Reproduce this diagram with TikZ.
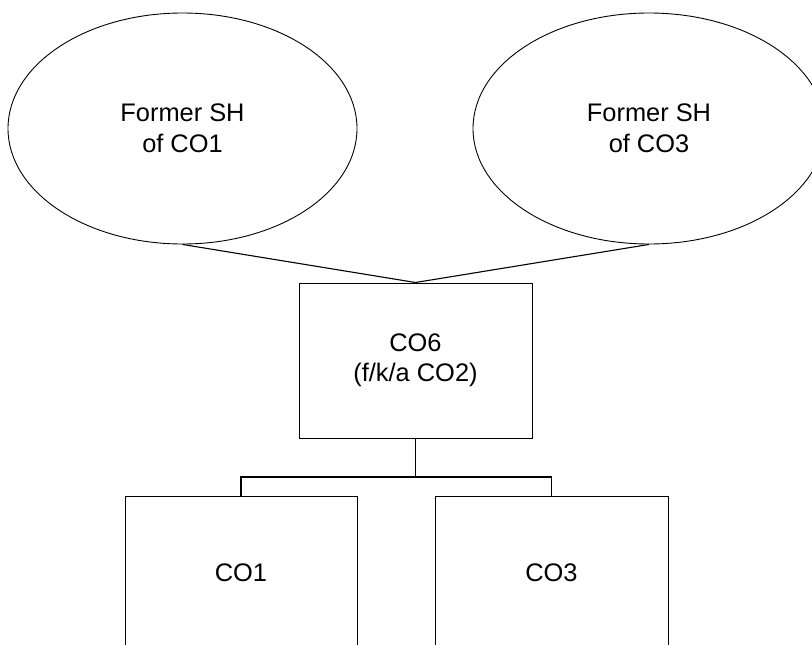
\documentclass[tikz,border=0pt]{standalone}
\usepackage{fontspec}
\setmainfont{Liberation Sans}
\usetikzlibrary{shapes.geometric}
\tikzset{
  x=1pt, y=-1pt,
  lbl/.style={font=\fontsize{25.4}{30.5}\selectfont, align=center, inner sep=0pt},
  oval/.style={lbl, draw, ellipse, line width=0.9pt},
  box/.style={lbl, draw, rectangle, line width=1pt},
  conn/.style={draw, line width=1.1pt}
}
\begin{document}
\begin{tikzpicture}
\clip (0,0) rectangle (812,645);
\fill[white] (0,0) rectangle (812,645);
\node[oval, minimum width=349pt, minimum height=231pt] (e1) at (182.5,128.5) {Former SH\\of CO1};
\node[oval, minimum width=352pt, minimum height=231pt] (e3) at (649,128.5) {Former SH\\of CO3};
\node[box, minimum width=233pt, minimum height=155pt] (co6) at (415.5,360.5) {CO6\\(f/k/a CO2)};
\node[box, minimum width=232pt, minimum height=154pt] (co1) at (241,573) {CO1};
\node[box, minimum width=233pt, minimum height=154pt] (co3) at (551.5,573) {CO3};
\coordinate (bus) at (0,477);
\draw[conn] (e1.south) -- (co6.north);
\draw[conn] (e3.south) -- (co6.north);
\draw[conn] (co6.south) -- (co6.south |- bus);
\draw[conn] (co1.north) -- (co1.north |- bus) -| (co3.north);
\end{tikzpicture}
\end{document}
